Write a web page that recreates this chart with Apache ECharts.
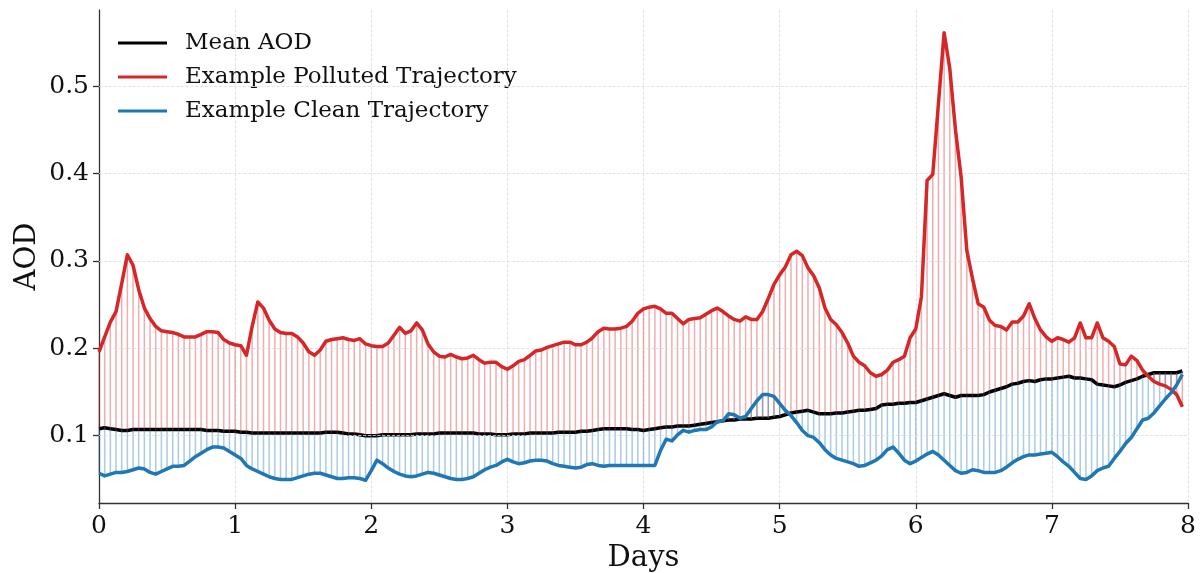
<!DOCTYPE html>
<html>
<head>
<meta charset="utf-8">
<script src="https://cdn.jsdelivr.net/npm/echarts@6/dist/echarts.min.js"></script>
<style>
  html, body { margin: 0; padding: 0; background: #fff; }
  #chart { width: 1203px; height: 573px; }
</style>
</head>
<body>
<div id="chart"></div>
<script>
// hourly samples, 8 days (hour 0 .. 191)
var meanAOD = [
  0.108, 0.109, 0.108, 0.107, 0.106, 0.106, 0.107, 0.107, 0.107, 0.107, 0.107, 0.107, 0.107, 0.107, 0.107, 0.107, 0.107, 0.107, 0.107, 0.106, 0.106, 0.106, 0.105, 0.105,
  0.105, 0.104, 0.104, 0.103, 0.103, 0.103, 0.103, 0.103, 0.103, 0.103, 0.103, 0.103, 0.103, 0.103, 0.103, 0.103, 0.104, 0.104, 0.104, 0.103, 0.102, 0.102, 0.101, 0.100,
  0.100, 0.100, 0.101, 0.101, 0.101, 0.101, 0.101, 0.101, 0.102, 0.102, 0.102, 0.102, 0.103, 0.103, 0.103, 0.103, 0.103, 0.103, 0.103, 0.102, 0.102, 0.102, 0.101, 0.101,
  0.101, 0.102, 0.102, 0.102, 0.103, 0.103, 0.103, 0.103, 0.103, 0.104, 0.104, 0.104, 0.104, 0.105, 0.105, 0.106, 0.107, 0.108, 0.108, 0.108, 0.108, 0.108, 0.107, 0.107,
  0.106, 0.107, 0.108, 0.109, 0.110, 0.110, 0.111, 0.111, 0.111, 0.112, 0.113, 0.114, 0.115, 0.116, 0.117, 0.118, 0.118, 0.119, 0.119, 0.119, 0.120, 0.120, 0.120, 0.121,
  0.122, 0.124, 0.126, 0.127, 0.128, 0.129, 0.127, 0.125, 0.125, 0.125, 0.126, 0.126, 0.127, 0.128, 0.129, 0.129, 0.130, 0.131, 0.135, 0.136, 0.136, 0.137, 0.137, 0.138,
  0.138, 0.140, 0.142, 0.144, 0.146, 0.148, 0.146, 0.144, 0.146, 0.146, 0.146, 0.146, 0.147, 0.150, 0.152, 0.154, 0.156, 0.159, 0.160, 0.162, 0.163, 0.162, 0.164, 0.165,
  0.165, 0.166, 0.167, 0.168, 0.166, 0.166, 0.165, 0.164, 0.159, 0.158, 0.157, 0.156, 0.158, 0.161, 0.163, 0.165, 0.168, 0.170, 0.172, 0.172, 0.172, 0.172, 0.172, 0.174
];
var pollutedAOD = [
  0.196, 0.213, 0.230, 0.242, 0.274, 0.307, 0.295, 0.267, 0.246, 0.234, 0.225, 0.220, 0.219, 0.218, 0.216, 0.213, 0.213, 0.213, 0.216, 0.219, 0.219, 0.218, 0.210, 0.206,
  0.204, 0.203, 0.192, 0.225, 0.253, 0.246, 0.232, 0.222, 0.218, 0.217, 0.217, 0.213, 0.206, 0.196, 0.192, 0.198, 0.208, 0.210, 0.211, 0.212, 0.210, 0.209, 0.211, 0.205,
  0.203, 0.202, 0.202, 0.206, 0.215, 0.224, 0.217, 0.220, 0.229, 0.221, 0.205, 0.196, 0.191, 0.190, 0.193, 0.190, 0.188, 0.189, 0.192, 0.187, 0.183, 0.184, 0.184, 0.179,
  0.176, 0.180, 0.185, 0.187, 0.192, 0.197, 0.198, 0.201, 0.203, 0.205, 0.207, 0.207, 0.204, 0.204, 0.207, 0.212, 0.219, 0.223, 0.222, 0.222, 0.223, 0.225, 0.231, 0.240,
  0.245, 0.247, 0.248, 0.245, 0.240, 0.240, 0.234, 0.228, 0.233, 0.234, 0.235, 0.239, 0.243, 0.246, 0.242, 0.237, 0.233, 0.231, 0.236, 0.233, 0.233, 0.242, 0.257, 0.273,
  0.284, 0.293, 0.307, 0.311, 0.306, 0.292, 0.283, 0.269, 0.246, 0.233, 0.227, 0.218, 0.206, 0.191, 0.184, 0.180, 0.172, 0.168, 0.170, 0.175, 0.184, 0.187, 0.191, 0.212,
  0.222, 0.259, 0.392, 0.399, 0.480, 0.561, 0.520, 0.450, 0.396, 0.312, 0.280, 0.251, 0.247, 0.232, 0.226, 0.225, 0.221, 0.230, 0.230, 0.237, 0.251, 0.234, 0.221, 0.213,
  0.208, 0.212, 0.210, 0.207, 0.212, 0.229, 0.212, 0.212, 0.229, 0.212, 0.208, 0.202, 0.182, 0.181, 0.191, 0.186, 0.175, 0.168, 0.162, 0.159, 0.157, 0.153, 0.147, 0.133
];
var cleanAOD = [
  0.057, 0.054, 0.056, 0.058, 0.058, 0.059, 0.061, 0.063, 0.062, 0.058, 0.056, 0.059, 0.062, 0.065, 0.065, 0.066, 0.071, 0.076, 0.080, 0.084, 0.087, 0.087, 0.086, 0.082,
  0.078, 0.074, 0.066, 0.062, 0.059, 0.056, 0.053, 0.051, 0.050, 0.050, 0.050, 0.052, 0.054, 0.056, 0.057, 0.057, 0.055, 0.053, 0.051, 0.051, 0.052, 0.052, 0.051, 0.049,
  0.060, 0.072, 0.068, 0.063, 0.059, 0.056, 0.054, 0.053, 0.054, 0.056, 0.058, 0.057, 0.055, 0.053, 0.051, 0.050, 0.050, 0.051, 0.053, 0.057, 0.061, 0.064, 0.066, 0.070,
  0.073, 0.070, 0.068, 0.069, 0.071, 0.072, 0.072, 0.071, 0.068, 0.066, 0.065, 0.064, 0.063, 0.064, 0.067, 0.068, 0.066, 0.065, 0.066, 0.066, 0.066, 0.066, 0.066, 0.066,
  0.066, 0.066, 0.066, 0.083, 0.096, 0.094, 0.101, 0.106, 0.104, 0.106, 0.107, 0.107, 0.110, 0.116, 0.117, 0.125, 0.124, 0.120, 0.122, 0.131, 0.140, 0.147, 0.147, 0.145,
  0.137, 0.129, 0.123, 0.115, 0.106, 0.100, 0.098, 0.092, 0.084, 0.078, 0.074, 0.072, 0.070, 0.068, 0.065, 0.066, 0.069, 0.072, 0.077, 0.084, 0.087, 0.080, 0.072, 0.068,
  0.071, 0.075, 0.079, 0.082, 0.078, 0.072, 0.066, 0.060, 0.057, 0.058, 0.061, 0.060, 0.058, 0.058, 0.058, 0.060, 0.064, 0.069, 0.073, 0.076, 0.078, 0.078, 0.079, 0.080,
  0.081, 0.076, 0.070, 0.065, 0.058, 0.051, 0.050, 0.054, 0.060, 0.063, 0.065, 0.074, 0.082, 0.091, 0.098, 0.108, 0.118, 0.120, 0.126, 0.134, 0.142, 0.149, 0.158, 0.170
];
var yTicks = [0.1, 0.2, 0.3, 0.4, 0.5];

var days = meanAOD.map(function (v, i) { return i / 24; });
var font = 'DejaVu Serif';
var red = '#d62728', blue = '#1f77b4';

function pairs(arr) {
    return arr.map(function (v, i) { return [days[i], v]; });
}
function stems(arr) {
    return arr.map(function (v, i) { return [days[i], meanAOD[i], v]; });
}
function stemItem(color) {
    return function (params, api) {
        var a = api.coord([api.value(0), api.value(1)]);
        var b = api.coord([api.value(0), api.value(2)]);
        return {
            type: 'line',
            shape: {x1: a[0], y1: a[1], x2: b[0], y2: b[1]},
            style: {stroke: color, lineWidth: 1.5}
        };
    };
}

var chart = echarts.init(document.getElementById('chart'));
var option = {
    backgroundColor: '#fff',
    animation: false,
    grid: {left: 99, right: 15, top: 10, bottom: 70, outerBoundsMode: 'none', containLabel: false},
    legend: {
        orient: 'vertical',
        left: 118,
        top: 31,
        padding: 0,
        icon: 'rect',
        itemWidth: 49,
        itemHeight: 3,
        itemGap: 10,
        data: ['Mean AOD', 'Example Polluted Trajectory', 'Example Clean Trajectory'],
        textStyle: {fontFamily: font, fontSize: 23, color: '#111', lineHeight: 24, padding: [0, 0, 0, 13]}
    },
    xAxis: {
        type: 'value',
        min: 0, max: 8, interval: 1,
        name: 'Days',
        nameLocation: 'middle',
        nameGap: 40,
        nameTextStyle: {fontFamily: font, fontSize: 29, color: '#111'},
        axisLine: {lineStyle: {color: '#333', width: 1.3}},
        axisTick: {show: true, length: 6, lineStyle: {color: '#333', width: 1.3}},
        axisLabel: {fontFamily: font, fontSize: 25, color: '#111', margin: 11},
        splitLine: {show: true, lineStyle: {color: '#dcdcdc', type: 'dashed', width: 0.8}}
    },
    yAxis: {
        type: 'value',
        min: 0.023, max: 0.587,
        name: 'AOD',
        nameLocation: 'middle',
        nameGap: 57,
        nameMoveOverlap: false,
        nameRotate: 90,
        nameTextStyle: {fontFamily: font, fontSize: 29, color: '#111'},
        axisLine: {show: true, lineStyle: {color: '#333', width: 1.3}},
        axisTick: {show: true, length: 6, customValues: yTicks, lineStyle: {color: '#333', width: 1.3}},
        axisLabel: {
            fontFamily: font, fontSize: 25, color: '#111', margin: 10,
            customValues: yTicks,
            formatter: function (v) {
                return Math.abs(v * 10 - Math.round(v * 10)) < 1e-6 ? v.toFixed(1) : '';
            }
        },
        splitLine: {show: false}
    },
    series: [
        {
            name: 'grid',
            type: 'line',
            data: [],
            z: 1,
            silent: true,
            markLine: {
                silent: true,
                symbol: 'none',
                label: {show: false},
                lineStyle: {color: '#dcdcdc', type: 'dashed', width: 0.8},
                data: yTicks.map(function (t) { return {yAxis: t}; })
            }
        },
        {
            name: 'Mean AOD',
            type: 'line',
            data: pairs(meanAOD),
            showSymbol: false,
            color: '#000',
            lineStyle: {color: '#000', width: 3.5, join: 'round'},
            z: 3
        },
        {
            name: 'polluted stems',
            type: 'custom',
            silent: true,
            renderItem: stemItem('rgba(214,39,40,0.38)'),
            encode: {x: 0, y: [1, 2]},
            data: stems(pollutedAOD),
            z: 4
        },
        {
            name: 'clean stems',
            type: 'custom',
            silent: true,
            renderItem: stemItem('rgba(31,119,180,0.38)'),
            encode: {x: 0, y: [1, 2]},
            data: stems(cleanAOD),
            z: 4
        },
        {
            name: 'Example Polluted Trajectory',
            type: 'line',
            data: pairs(pollutedAOD),
            showSymbol: false,
            color: red,
            lineStyle: {color: red, width: 3.5, join: 'round'},
            z: 5
        },
        {
            name: 'Example Clean Trajectory',
            type: 'line',
            data: pairs(cleanAOD),
            showSymbol: false,
            color: blue,
            lineStyle: {color: blue, width: 3.5, join: 'round'},
            z: 5
        }
    ]
};
chart.setOption(option);
</script>
</body>
</html>
